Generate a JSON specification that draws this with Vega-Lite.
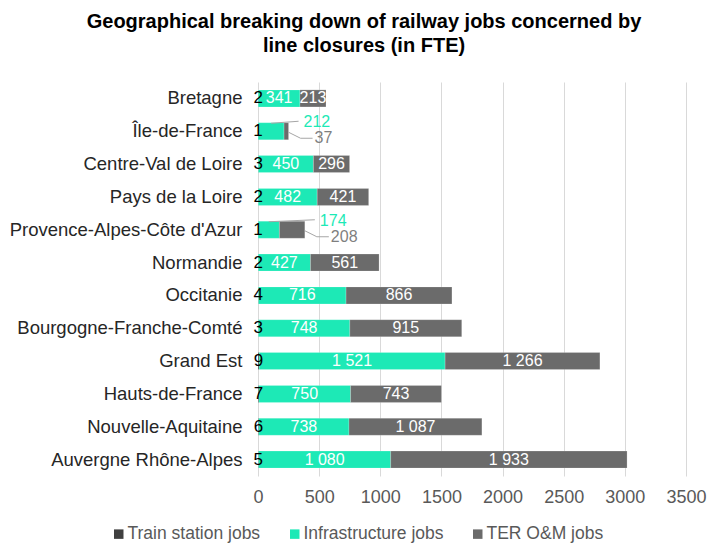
{
  "$schema": "https://vega.github.io/schema/vega-lite/v6.json",
  "width": 428,
  "height": 394,
  "autosize": "none",
  "padding": {"left": 258, "top": 82, "right": 29, "bottom": 69},
  "background": "white",
  "title": {
    "text": ["Geographical breaking down of railway jobs concerned by", "line closures (in FTE)"],
    "font": "Liberation Sans",
    "fontSize": 20,
    "fontWeight": "bold",
    "color": "#000000",
    "anchor": "middle",
    "frame": "group",
    "dx": -108,
    "offset": 26,
    "lineHeight": 24
  },
  "config": {
    "locale": {"number": {"decimal": ",", "thousands": " ", "grouping": [3], "currency": ["", " €"]}},
    "view": {"stroke": null},
    "font": "Liberation Sans"
  },
  "data": {
    "values": [
      {"region": "Bretagne", "series": "Train station jobs", "order": 1, "value": 2},
      {"region": "Bretagne", "series": "Infrastructure jobs", "order": 2, "value": 341},
      {"region": "Bretagne", "series": "TER O&M jobs", "order": 3, "value": 213},
      {"region": "Île-de-France", "series": "Train station jobs", "order": 1, "value": 1},
      {"region": "Île-de-France", "series": "Infrastructure jobs", "order": 2, "value": 212},
      {"region": "Île-de-France", "series": "TER O&M jobs", "order": 3, "value": 37},
      {"region": "Centre-Val de Loire", "series": "Train station jobs", "order": 1, "value": 3},
      {"region": "Centre-Val de Loire", "series": "Infrastructure jobs", "order": 2, "value": 450},
      {"region": "Centre-Val de Loire", "series": "TER O&M jobs", "order": 3, "value": 296},
      {"region": "Pays de la Loire", "series": "Train station jobs", "order": 1, "value": 2},
      {"region": "Pays de la Loire", "series": "Infrastructure jobs", "order": 2, "value": 482},
      {"region": "Pays de la Loire", "series": "TER O&M jobs", "order": 3, "value": 421},
      {"region": "Provence-Alpes-Côte d'Azur", "series": "Train station jobs", "order": 1, "value": 1},
      {"region": "Provence-Alpes-Côte d'Azur", "series": "Infrastructure jobs", "order": 2, "value": 174},
      {"region": "Provence-Alpes-Côte d'Azur", "series": "TER O&M jobs", "order": 3, "value": 208},
      {"region": "Normandie", "series": "Train station jobs", "order": 1, "value": 2},
      {"region": "Normandie", "series": "Infrastructure jobs", "order": 2, "value": 427},
      {"region": "Normandie", "series": "TER O&M jobs", "order": 3, "value": 561},
      {"region": "Occitanie", "series": "Train station jobs", "order": 1, "value": 4},
      {"region": "Occitanie", "series": "Infrastructure jobs", "order": 2, "value": 716},
      {"region": "Occitanie", "series": "TER O&M jobs", "order": 3, "value": 866},
      {"region": "Bourgogne-Franche-Comté", "series": "Train station jobs", "order": 1, "value": 3},
      {"region": "Bourgogne-Franche-Comté", "series": "Infrastructure jobs", "order": 2, "value": 748},
      {"region": "Bourgogne-Franche-Comté", "series": "TER O&M jobs", "order": 3, "value": 915},
      {"region": "Grand Est", "series": "Train station jobs", "order": 1, "value": 9},
      {"region": "Grand Est", "series": "Infrastructure jobs", "order": 2, "value": 1521},
      {"region": "Grand Est", "series": "TER O&M jobs", "order": 3, "value": 1266},
      {"region": "Hauts-de-France", "series": "Train station jobs", "order": 1, "value": 7},
      {"region": "Hauts-de-France", "series": "Infrastructure jobs", "order": 2, "value": 750},
      {"region": "Hauts-de-France", "series": "TER O&M jobs", "order": 3, "value": 743},
      {"region": "Nouvelle-Aquitaine", "series": "Train station jobs", "order": 1, "value": 6},
      {"region": "Nouvelle-Aquitaine", "series": "Infrastructure jobs", "order": 2, "value": 738},
      {"region": "Nouvelle-Aquitaine", "series": "TER O&M jobs", "order": 3, "value": 1087},
      {"region": "Auvergne Rhône-Alpes", "series": "Train station jobs", "order": 1, "value": 5},
      {"region": "Auvergne Rhône-Alpes", "series": "Infrastructure jobs", "order": 2, "value": 1080},
      {"region": "Auvergne Rhône-Alpes", "series": "TER O&M jobs", "order": 3, "value": 1933}
    ]
  },
  "transform": [
    {"joinaggregate": [{"op": "sum", "field": "value", "as": "total"}], "groupby": ["region"]},
    {"stack": "value", "groupby": ["region"], "sort": [{"field": "order", "order": "ascending"}], "as": ["v0", "v1"]},
    {"calculate": "(datum.v0 + datum.v1) / 2", "as": "mid"}
  ],
  "encoding": {
    "y": {
      "field": "region",
      "type": "nominal",
      "sort": ["Bretagne", "Île-de-France", "Centre-Val de Loire", "Pays de la Loire", "Provence-Alpes-Côte d'Azur", "Normandie", "Occitanie", "Bourgogne-Franche-Comté", "Grand Est", "Hauts-de-France", "Nouvelle-Aquitaine", "Auvergne Rhône-Alpes"],
      "scale": {"paddingInner": 0.48, "paddingOuter": 0.24},
      "axis": {"title": null, "domain": false, "ticks": false, "labelPadding": 16, "labelFontSize": 18.5, "labelLimit": 300, "labelColor": "#262626", "labelFont": "Liberation Sans"}
    }
  },
  "layer": [
    {
      "mark": {"type": "bar", "stroke": "#ffffff", "strokeWidth": 0.5, "strokeOpacity": 0.4},
      "encoding": {
        "x": {
          "field": "v0",
          "type": "quantitative",
          "scale": {"domain": [0, 3500], "nice": false},
          "axis": {"title": null, "values": [0, 500, 1000, 1500, 2000, 2500, 3000, 3500], "format": "d", "domain": false, "ticks": false, "labelFlush": false, "labelPadding": 12, "labelFontSize": 18, "labelColor": "#595959", "labelFont": "Liberation Sans", "gridColor": "#D9D9D9", "gridWidth": 1}
        },
        "x2": {"field": "v1"},
        "color": {
          "field": "series",
          "type": "nominal",
          "scale": {"domain": ["Train station jobs", "Infrastructure jobs", "TER O&M jobs"], "range": ["#404040", "#1DE9B6", "#6B6B6B"]},
          "legend": {
            "title": null,
            "orient": "none",
            "direction": "horizontal",
            "legendX": -148,
            "legendY": 443,
            "symbolType": "square",
            "symbolSize": 90,
            "symbolStrokeWidth": 0,
            "labelFontSize": 17.5,
            "labelColor": "#595959",
            "labelFont": "Liberation Sans",
            "labelOffset": 0,
            "labelLimit": 300,
            "columnPadding": 25
          }
        },
        "order": {"field": "order"}
      }
    },
    {
      "transform": [{"filter": "datum.series === 'Train station jobs'"}],
      "mark": {"type": "text", "fontSize": 17, "color": "#000000", "align": "center", "baseline": "middle"},
      "encoding": {
        "x": {"field": "mid", "type": "quantitative"},
        "text": {"field": "value", "type": "quantitative", "format": ",d"}
      }
    },
    {
      "transform": [{"filter": "datum.series !== 'Train station jobs' && datum.region !== 'Île-de-France' && datum.region !== \"Provence-Alpes-Côte d'Azur\""}],
      "mark": {"type": "text", "fontSize": 16, "color": "#ffffff", "align": "center", "baseline": "middle"},
      "encoding": {
        "x": {"field": "mid", "type": "quantitative"},
        "text": {"field": "value", "type": "quantitative", "format": ",d"}
      }
    },
    {
      "transform": [{"filter": "datum.series === 'Infrastructure jobs' && (datum.region === 'Île-de-France' || datum.region === \"Provence-Alpes-Côte d'Azur\")"}],
      "mark": {"type": "text", "fontSize": 16, "color": "#1DE9B6", "align": "left", "baseline": "middle", "dx": 15, "dy": -9},
      "encoding": {
        "x": {"field": "total", "type": "quantitative"},
        "text": {"field": "value", "type": "quantitative", "format": ",d"}
      }
    },
    {
      "transform": [{"filter": "datum.series === 'TER O&M jobs' && (datum.region === 'Île-de-France' || datum.region === \"Provence-Alpes-Côte d'Azur\")"}],
      "mark": {"type": "text", "fontSize": 16, "color": "#7F7F7F", "align": "left", "baseline": "middle", "dx": 26, "dy": 7},
      "encoding": {
        "x": {"field": "total", "type": "quantitative"},
        "text": {"field": "value", "type": "quantitative", "format": ",d"}
      }
    },
    {
      "transform": [{"filter": "datum.series === 'Infrastructure jobs' && (datum.region === 'Île-de-France' || datum.region === \"Provence-Alpes-Côte d'Azur\")"}],
      "mark": {"type": "rule", "color": "#A6A6A6", "strokeWidth": 1, "yOffset": -8, "y2Offset": -10, "x2Offset": 10},
      "encoding": {
        "x": {"field": "mid", "type": "quantitative"},
        "x2": {"field": "total"},
        "y2": {"field": "region"}
      }
    },
    {
      "transform": [{"filter": "datum.series === 'TER O&M jobs' && (datum.region === 'Île-de-France' || datum.region === \"Provence-Alpes-Côte d'Azur\")"}],
      "mark": {"type": "rule", "color": "#A6A6A6", "strokeWidth": 1, "yOffset": 1, "y2Offset": 7, "x2Offset": 12},
      "encoding": {
        "x": {"field": "total", "type": "quantitative"},
        "x2": {"field": "total"},
        "y2": {"field": "region"}
      }
    },
    {
      "transform": [{"filter": "datum.series === 'TER O&M jobs' && (datum.region === 'Île-de-France' || datum.region === \"Provence-Alpes-Côte d'Azur\")"}],
      "mark": {"type": "rule", "color": "#A6A6A6", "strokeWidth": 1, "yOffset": 7, "xOffset": 12, "x2Offset": 24},
      "encoding": {
        "x": {"field": "total", "type": "quantitative"},
        "x2": {"field": "total"}
      }
    }
  ]
}
